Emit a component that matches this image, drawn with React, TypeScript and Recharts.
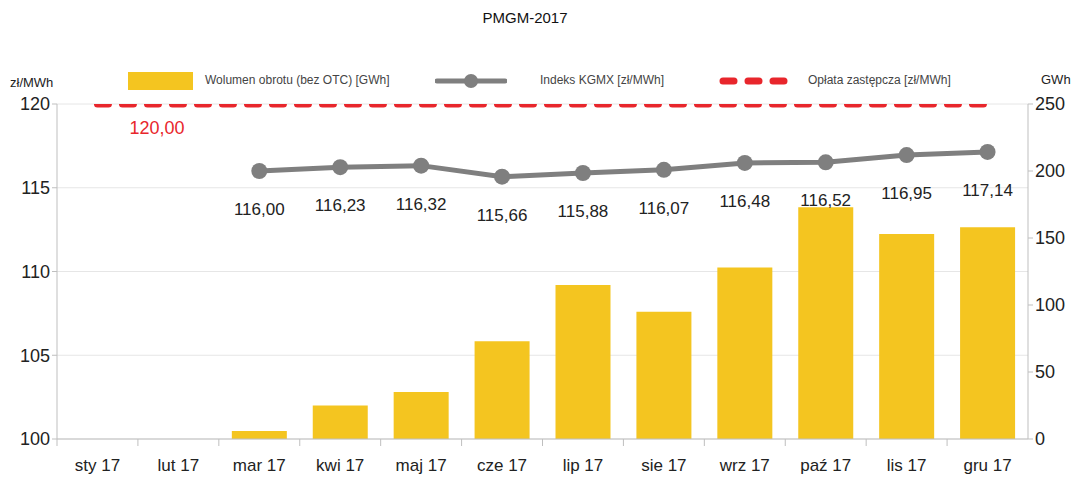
import React from 'react';
import {
  ComposedChart,
  Bar,
  Line,
  XAxis,
  YAxis,
  CartesianGrid,
  LabelList
} from 'recharts';

const months = ['sty 17', 'lut 17', 'mar 17', 'kwi 17', 'maj 17', 'cze 17', 'lip 17', 'sie 17', 'wrz 17', 'paź 17', 'lis 17', 'gru 17'];
// wolumen obrotu (bez OTC) [GWh]
const volume = [0, 0, 6, 25, 35, 73, 115, 95, 128, 173, 153, 158];
// indeks KGMX [zł/MWh]
const kgmx = [null, null, 116.0, 116.23, 116.32, 115.66, 115.88, 116.07, 116.48, 116.52, 116.95, 117.14];
// opłata zastępcza [zł/MWh]
const fee = [120, 120, 120, 120, 120, 120, 120, 120, 120, 120, 120, 120];

const leftTicks = [100, 105, 110, 115, 120];
const rightTicks = [0, 50, 100, 150, 200, 250];

const YELLOW = '#F4C520';
const GREY = '#7F7F7F';
const RED = '#E8262C';
const FONT = 'Arial, "Liberation Sans", sans-serif';

const data = months.map((m, i) => ({
  month: m,
  volume: volume[i],
  kgmx: kgmx[i],
  fee: fee[i]
}));

const fmt = (v: number) => v.toFixed(2).replace('.', ',');

// tick marks between categories, like the original
const MonthTick = (props: any) => {
  const { x, y, payload } = props;
  const half = (1028 - 57) / 12 / 2;
  return (
    <g>
      <line x1={x - half} y1={y - 8} x2={x - half} y2={y - 1} stroke="#bfbfbf" />
      <text x={x} y={y + 24} textAnchor="middle" fontSize={17} fill="#222" fontFamily={FONT}>
        {payload.value}
      </text>
    </g>
  );
};

const KgmxLabel = (props: any) => {
  const { x, y, value } = props;
  if (value == null) return null;
  return (
    <text x={x} y={y + 44} textAnchor="middle" fontSize={17} fill="#222" fontFamily={FONT}>
      {fmt(value)}
    </text>
  );
};

const FeeLabel = (props: any) => {
  const { x, y, value, index } = props;
  if (index !== 0) return null;
  return (
    <text x={x + 32} y={y + 30} textAnchor="start" fontSize={18} fill={RED} fontFamily={FONT}>
      {fmt(value)}
    </text>
  );
};

const ChartLegend = () => (
  <div style={{ position: 'absolute', left: 0, top: 68, width: 1082, height: 24, fontFamily: FONT, fontSize: 12, color: '#444' }}>
    <div style={{ position: 'absolute', left: 128, top: 4, width: 65, height: 18, background: YELLOW }} />
    <span style={{ position: 'absolute', left: 205, top: 5 }}>Wolumen obrotu (bez OTC) [GWh]</span>
    <svg style={{ position: 'absolute', left: 435, top: 3 }} width={72} height={20}>
      <line x1={2} y1={10} x2={70} y2={10} stroke={GREY} strokeWidth={5} strokeLinecap="round" />
      <circle cx={36} cy={10} r={7} fill={GREY} />
    </svg>
    <span style={{ position: 'absolute', left: 540, top: 5 }}>Indeks KGMX [zł/MWh]</span>
    <svg style={{ position: 'absolute', left: 718, top: 3 }} width={80} height={20}>
      <line x1={5} y1={10} x2={76} y2={10} stroke={RED} strokeWidth={7} strokeDasharray="11 14" strokeLinecap="round" />
    </svg>
    <span style={{ position: 'absolute', left: 808, top: 5 }}>Opłata zastępcza [zł/MWh]</span>
  </div>
);

const App: React.FC = () => {
  return (
    <div style={{ position: 'absolute', left: 0, top: 0, width: 1082, height: 482, background: '#fff', fontFamily: FONT }}>
      <div style={{ position: 'absolute', left: 0, top: 9, width: 1050, textAlign: 'center', fontSize: 15, color: '#111' }}>
        PMGM-2017
      </div>
      <div style={{ position: 'absolute', left: 10, top: 75, fontSize: 13, color: '#222' }}>zł/MWh</div>
      <div style={{ position: 'absolute', left: 1041, top: 72, fontSize: 13, color: '#222' }}>GWh</div>
      <ChartLegend />
      <ComposedChart width={1082} height={482} data={data} margin={{ top: 104, right: 0, bottom: 0, left: 0 }}>
        <CartesianGrid yAxisId="left" vertical={false} stroke="#e6e6e6" />
        <XAxis
          dataKey="month"
          height={43}
          axisLine={{ stroke: '#bfbfbf' }}
          tickLine={false}
          tick={<MonthTick />}
          interval={0}
        />
        <YAxis
          yAxisId="left"
          orientation="left"
          width={57}
          domain={[100, 120]}
          ticks={leftTicks}
          axisLine={{ stroke: '#bfbfbf' }}
          tickLine={{ stroke: '#bfbfbf' }}
          tickSize={5}
          tick={{ fontSize: 18, fill: '#222', fontFamily: FONT }}
          allowDataOverflow
        />
        <YAxis
          yAxisId="right"
          orientation="right"
          width={54}
          domain={[0, 250]}
          ticks={rightTicks}
          axisLine={{ stroke: '#bfbfbf' }}
          tickLine={{ stroke: '#bfbfbf' }}
          tickSize={5}
          tick={{ fontSize: 18, fill: '#222', fontFamily: FONT }}
        />
        <Bar yAxisId="right" dataKey="volume" fill={YELLOW} barSize={55} isAnimationActive={false} />
        <Line
          yAxisId="left"
          dataKey="fee"
          stroke={RED}
          strokeWidth={7}
          strokeDasharray="11 14"
          strokeLinecap="round"
          dot={false}
          activeDot={false}
          isAnimationActive={false}
        >
          <LabelList dataKey="fee" content={<FeeLabel />} />
        </Line>
        <Line
          yAxisId="left"
          dataKey="kgmx"
          stroke={GREY}
          strokeWidth={5}
          dot={{ r: 8, fill: GREY, stroke: GREY, strokeWidth: 0 }}
          activeDot={false}
          isAnimationActive={false}
        >
          <LabelList dataKey="kgmx" content={<KgmxLabel />} />
        </Line>
      </ComposedChart>
    </div>
  );
};

export default App;
